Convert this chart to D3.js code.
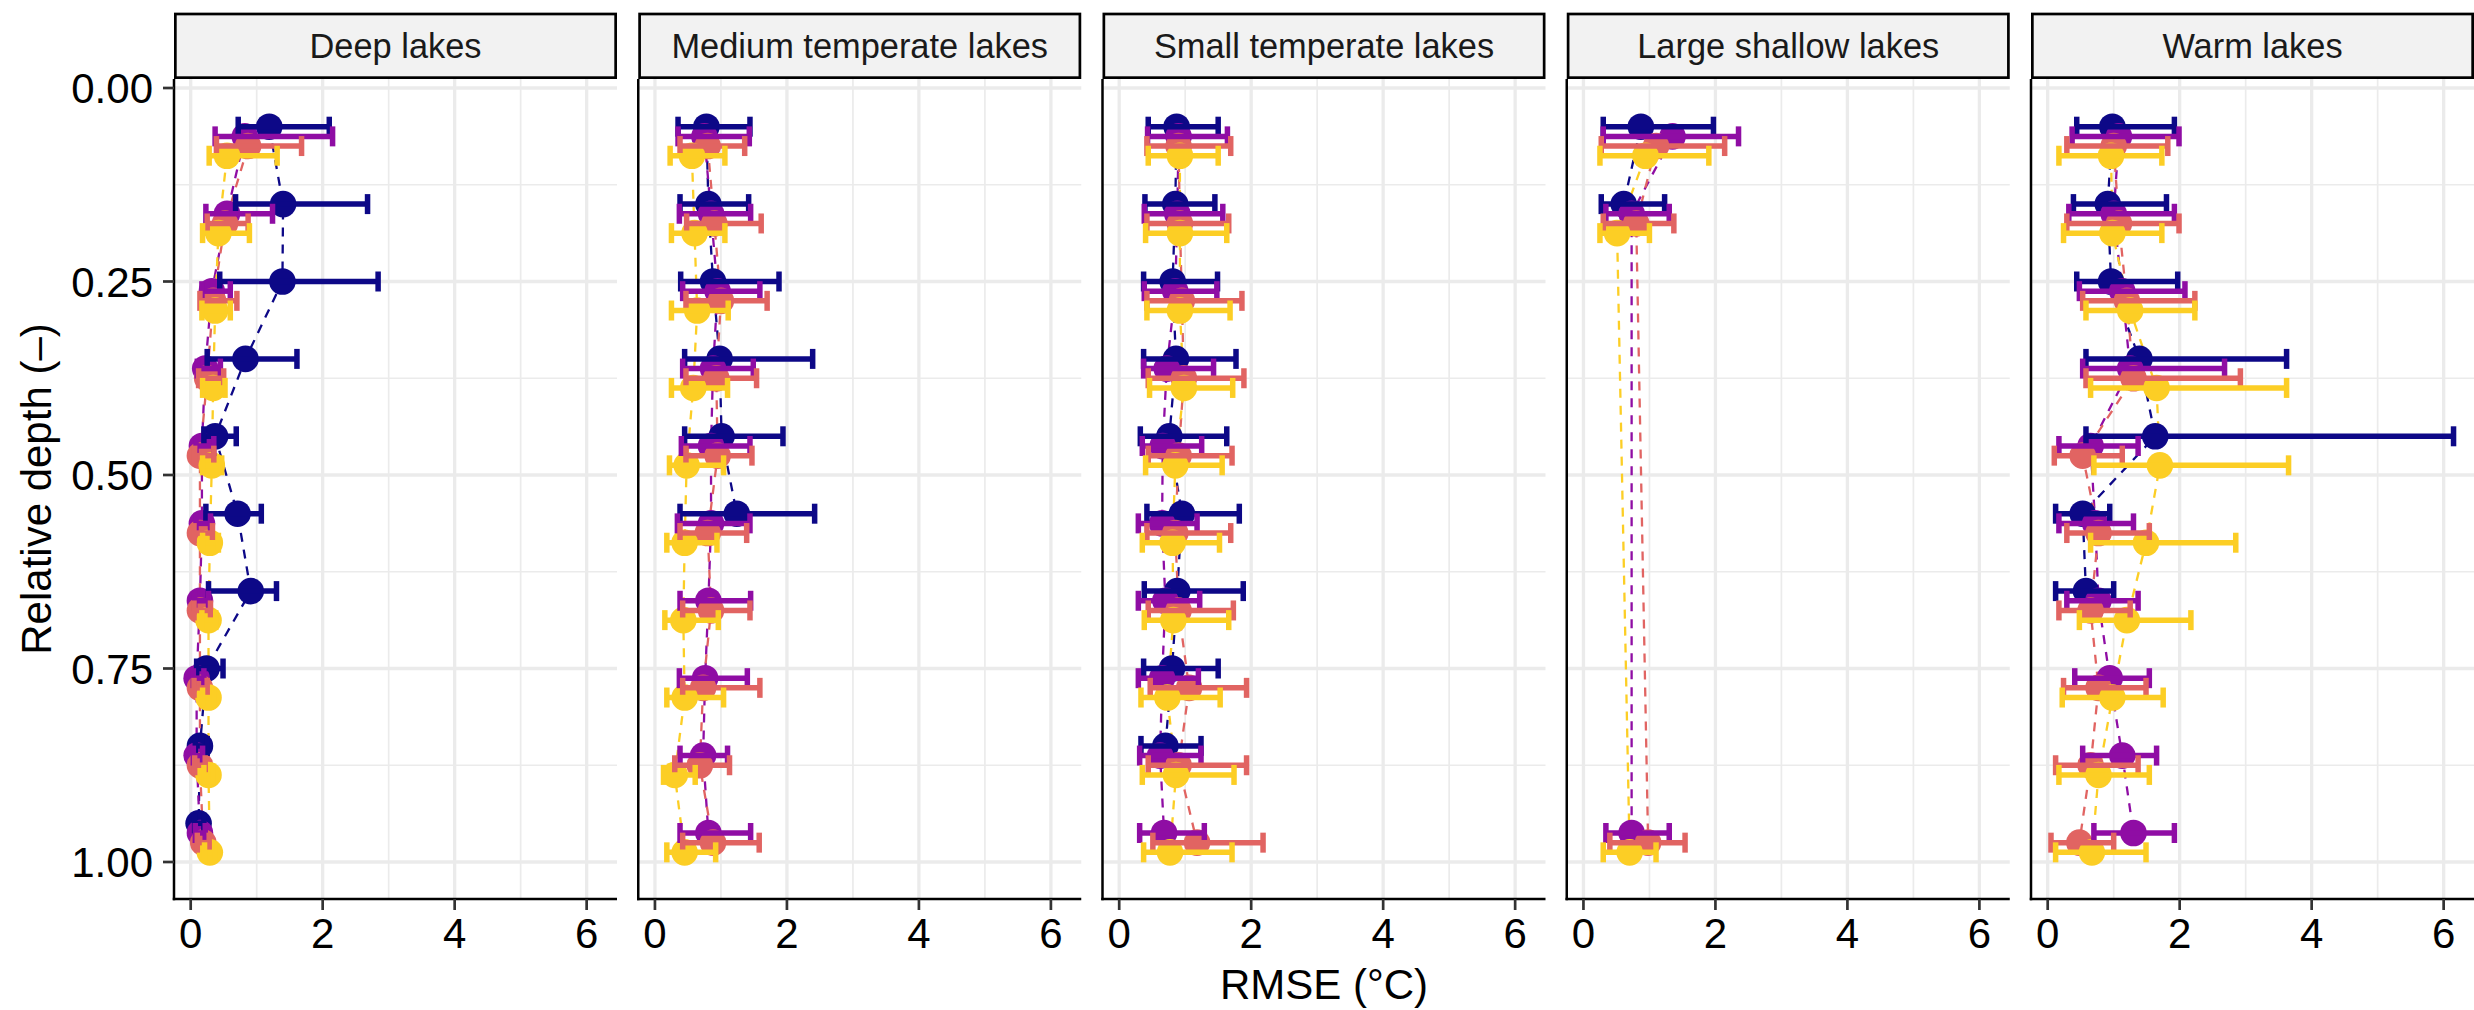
<!doctype html>
<html lang="en">
<head>
<meta charset="utf-8">
<title>RMSE by relative depth</title>
<script src="https://cdn.jsdelivr.net/npm/d3@7"></script>
<style>
  body { margin: 0; background: #fff; }
  svg { display: block; font-family: 'Liberation Sans', Arial, Helvetica, sans-serif; }
  .grid-major { stroke: #ebebeb; stroke-width: 3.3; }
  .grid-minor { stroke: #ebebeb; stroke-width: 1.7; }
  .axis-line { stroke: #000; stroke-width: 2.5; }
  .tick-mark { stroke: #333; stroke-width: 2.7; }
  .tick-label { font-size: 42px; fill: #000; }
  .strip rect { fill: #f2f2f2; stroke: #000; stroke-width: 2.7; }
  .strip text { font-size: 34.4px; fill: #1a1a1a; }
  .axis-title { font-size: 42px; fill: #000; }
</style>
</head>
<body>
<svg id="chart" width="2474" height="1010"></svg>
<script>
// facets
const lakeTypes = ['Deep lakes', 'Medium temperate lakes', 'Small temperate lakes', 'Large shallow lakes', 'Warm lakes'];
// relative depth bins
const depths = [0.05, 0.15, 0.25, 0.35, 0.45, 0.55, 0.65, 0.75, 0.85, 0.95];
const seriesKeys = ['s1', 's2', 's3', 's4'];
const seriesColors = ['#0D0887', '#8F0DA4', '#E16462', '#FCCE25'];
const xTicks = [0, 2, 4, 6];
const yTicks = [0, 0.25, 0.5, 0.75, 1];
const yTickLabels = ['0.00', '0.25', '0.50', '0.75', '1.00'];

// each block: one row per series (s1..s4), one value per depth; null = no data
const deepRmse = [
  [1.19, 1.40, 1.39, 0.83, 0.37, 0.71, 0.91, 0.24, 0.14, 0.12],
  [0.82, 0.55, 0.32, 0.22, 0.17, 0.17, 0.14, 0.09, 0.09, 0.14],
  [0.87, 0.52, 0.34, 0.25, 0.14, 0.14, 0.14, 0.14, 0.14, 0.19],
  [0.55, 0.42, 0.37, 0.34, 0.32, 0.29, 0.27, 0.27, 0.27, 0.29]
];
const deepLow = [
  [0.72, 0.68, 0.44, 0.25, 0.20, 0.23, 0.27, 0.09, 0.07, 0.06],
  [0.37, 0.23, 0.17, 0.10, 0.08, 0.08, 0.06, 0.04, 0.04, 0.07],
  [0.39, 0.25, 0.14, 0.12, 0.06, 0.05, 0.05, 0.05, 0.06, 0.10],
  [0.28, 0.18, 0.17, 0.18, 0.18, 0.18, 0.17, 0.18, 0.20, 0.21]
];
const deepHigh = [
  [2.10, 2.68, 2.84, 1.61, 0.69, 1.07, 1.30, 0.49, 0.25, 0.20],
  [2.15, 1.24, 0.60, 0.45, 0.35, 0.30, 0.27, 0.20, 0.18, 0.22],
  [1.68, 0.87, 0.70, 0.50, 0.35, 0.33, 0.30, 0.25, 0.22, 0.28],
  [1.31, 0.89, 0.60, 0.52, 0.47, 0.42, 0.38, 0.35, 0.34, 0.37]
];

const mediumRmse = [
  [0.78, 0.81, 0.88, 0.98, 1.01, 1.24, null, null, null, null],
  [0.75, 0.85, 0.95, 0.88, 0.85, 0.85, 0.81, 0.76, 0.73, 0.81],
  [0.80, 0.90, 1.00, 0.93, 0.95, 0.80, 0.85, 0.73, 0.68, 0.88],
  [0.56, 0.60, 0.64, 0.58, 0.48, 0.45, 0.43, 0.45, 0.30, 0.45]
];
const mediumLow = [
  [0.35, 0.38, 0.39, 0.45, 0.45, 0.38, null, null, null, null],
  [0.35, 0.37, 0.42, 0.42, 0.40, 0.34, 0.38, 0.37, 0.38, 0.38],
  [0.38, 0.48, 0.47, 0.47, 0.47, 0.38, 0.42, 0.42, 0.30, 0.42],
  [0.23, 0.25, 0.25, 0.25, 0.22, 0.18, 0.15, 0.18, 0.13, 0.18]
];
const mediumHigh = [
  [1.44, 1.42, 1.88, 2.39, 1.94, 2.42, null, null, null, null],
  [1.43, 1.45, 1.59, 1.49, 1.44, 1.44, 1.45, 1.40, 1.10, 1.45],
  [1.36, 1.61, 1.70, 1.54, 1.47, 1.39, 1.44, 1.59, 1.13, 1.58],
  [1.06, 1.06, 1.11, 1.10, 1.04, 0.94, 0.96, 1.04, 0.61, 0.92]
];

const smallRmse = [
  [0.87, 0.85, 0.81, 0.86, 0.76, 0.95, 0.88, 0.80, 0.70, null],
  [0.90, 0.88, 0.85, 0.72, 0.66, 0.65, 0.70, 0.65, 0.62, 0.68],
  [0.90, 0.92, 0.95, 0.98, 0.90, 0.85, 0.90, 1.06, 0.90, 1.18],
  [0.92, 0.92, 0.92, 0.98, 0.85, 0.81, 0.82, 0.73, 0.86, 0.77]
];
const smallLow = [
  [0.44, 0.39, 0.37, 0.37, 0.32, 0.42, 0.38, 0.37, 0.33, null],
  [0.43, 0.38, 0.38, 0.37, 0.35, 0.29, 0.29, 0.29, 0.31, 0.31],
  [0.42, 0.42, 0.42, 0.44, 0.44, 0.42, 0.44, 0.47, 0.44, 0.51],
  [0.44, 0.40, 0.42, 0.46, 0.40, 0.35, 0.38, 0.33, 0.35, 0.37]
];
const smallHigh = [
  [1.50, 1.45, 1.49, 1.77, 1.63, 1.82, 1.88, 1.50, 1.24, null],
  [1.64, 1.57, 1.48, 1.43, 1.25, 1.18, 1.22, 1.20, 1.24, 1.29],
  [1.69, 1.66, 1.86, 1.89, 1.71, 1.69, 1.73, 1.93, 1.93, 2.18],
  [1.50, 1.63, 1.68, 1.72, 1.56, 1.52, 1.66, 1.53, 1.74, 1.71]
];

const shallowRmse = [
  [0.87, 0.61, null, null, null, null, null, null, null, null],
  [1.35, 0.73, null, null, null, null, null, null, null, 0.73],
  [1.10, 0.80, null, null, null, null, null, null, null, 0.98],
  [0.94, 0.51, null, null, null, null, null, null, null, 0.70]
];
const shallowLow = [
  [0.30, 0.27, null, null, null, null, null, null, null, null],
  [0.30, 0.34, null, null, null, null, null, null, null, 0.34],
  [0.27, 0.30, null, null, null, null, null, null, null, 0.40],
  [0.25, 0.25, null, null, null, null, null, null, null, 0.30]
];
const shallowHigh = [
  [1.97, 1.23, null, null, null, null, null, null, null, null],
  [2.35, 1.30, null, null, null, null, null, null, null, 1.30],
  [2.14, 1.37, null, null, null, null, null, null, null, 1.54],
  [1.90, 1.00, null, null, null, null, null, null, null, 1.10]
];

const warmRmse = [
  [0.98, 0.91, 0.96, 1.39, 1.63, 0.53, 0.58, null, null, null],
  [1.08, 1.00, 1.13, 1.25, 0.65, 0.72, 0.77, 0.94, 1.13, 1.30],
  [1.00, 1.08, 1.20, 1.30, 0.53, 0.77, 0.65, 0.77, 0.65, 0.48],
  [0.96, 0.98, 1.25, 1.65, 1.70, 1.49, 1.20, 0.98, 0.77, 0.67]
];
const warmLow = [
  [0.44, 0.39, 0.44, 0.58, 0.58, 0.12, 0.12, null, null, null],
  [0.37, 0.32, 0.48, 0.53, 0.17, 0.17, 0.29, 0.41, 0.53, 0.70],
  [0.29, 0.29, 0.53, 0.58, 0.10, 0.29, 0.17, 0.24, 0.12, 0.05],
  [0.17, 0.24, 0.58, 0.65, 0.70, 0.65, 0.48, 0.22, 0.17, 0.12]
];
const warmHigh = [
  [1.92, 1.80, 1.97, 3.62, 6.15, 0.94, 1.00, null, null, null],
  [1.99, 1.92, 2.08, 2.68, 1.37, 1.30, 1.37, 1.54, 1.65, 1.92],
  [1.82, 1.99, 2.23, 2.92, 1.13, 1.54, 1.25, 1.49, 1.37, 1.00],
  [1.73, 1.73, 2.23, 3.62, 3.65, 2.85, 2.17, 1.75, 1.54, 1.49]
];

const rmseByLake = [deepRmse, mediumRmse, smallRmse, shallowRmse, warmRmse];
const lowByLake = [deepLow, mediumLow, smallLow, shallowLow, warmLow];
const highByLake = [deepHigh, mediumHigh, smallHigh, shallowHigh, warmHigh];

// long table
const rows = [];
lakeTypes.forEach((lake, li) => {
  seriesKeys.forEach((s, si) => {
    depths.forEach((d, di) => {
      const v = rmseByLake[li][si][di];
      if (v == null) return;
      rows.push({ lake, series: s, si, depth: d, rmse: v,
                  lo: lowByLake[li][si][di], hi: highByLake[li][si][di] });
    });
  });
});

const svg = d3.select('#chart');

const panelLeft = 174, panelW = 443, panelGap = 21.25;
const panelTop = 79, panelBottom = 899;
const stripTop = 14;
const dodge = 0.0125;   // vertical dodge between series

const x = d3.scaleLinear().domain([-0.253, 6.46]).range([0, panelW]);
const y = d3.scaleLinear().domain([0, 1]).range([88, 862]);
const color = d3.scaleOrdinal().domain(seriesKeys).range(seriesColors);

lakeTypes.forEach((lake, li) => {
  const g = svg.append('g')
    .attr('transform', `translate(${panelLeft + li * (panelW + panelGap)},0)`);

  // grid
  [1, 3, 5].forEach(v => g.append('line').attr('class', 'grid-minor')
    .attr('x1', x(v)).attr('x2', x(v)).attr('y1', panelTop).attr('y2', panelBottom));
  [0.125, 0.375, 0.625, 0.875].forEach(v => g.append('line').attr('class', 'grid-minor')
    .attr('x1', 0).attr('x2', panelW).attr('y1', y(v)).attr('y2', y(v)));
  xTicks.forEach(v => g.append('line').attr('class', 'grid-major')
    .attr('x1', x(v)).attr('x2', x(v)).attr('y1', panelTop).attr('y2', panelBottom));
  yTicks.forEach(v => g.append('line').attr('class', 'grid-major')
    .attr('x1', 0).attr('x2', panelW).attr('y1', y(v)).attr('y2', y(v)));

  const data = rows.filter(r => r.lake === lake);
  const line = d3.line().x(d => x(d.rmse)).y(d => y(d.depth + d.si * dodge));

  // dashed profile lines
  seriesKeys.forEach((s, si) => {
    const pts = data.filter(d => d.series === s);
    if (pts.length < 2) return;
    g.append('path').datum(pts)
      .attr('d', line)
      .attr('fill', 'none')
      .attr('stroke', color(s))
      .attr('stroke-width', 2.3)
      .attr('stroke-dasharray', '9,8');
  });

  // points
  g.selectAll('circle.pt').data(data).join('circle')
    .attr('class', 'pt')
    .attr('cx', d => x(d.rmse))
    .attr('cy', d => y(d.depth + d.si * dodge))
    .attr('r', 13.3)
    .attr('fill', d => color(d.series));

  // error bars
  const eb = g.selectAll('g.eb').data(data).join('g').attr('class', 'eb')
    .attr('stroke', d => color(d.series))
    .attr('stroke-width', 5.5);
  eb.append('line')
    .attr('x1', d => x(d.lo)).attr('x2', d => x(d.hi))
    .attr('y1', d => y(d.depth + d.si * dodge)).attr('y2', d => y(d.depth + d.si * dodge));
  eb.append('line')
    .attr('x1', d => x(d.lo)).attr('x2', d => x(d.lo))
    .attr('y1', d => y(d.depth + d.si * dodge) - 10).attr('y2', d => y(d.depth + d.si * dodge) + 10);
  eb.append('line')
    .attr('x1', d => x(d.hi)).attr('x2', d => x(d.hi))
    .attr('y1', d => y(d.depth + d.si * dodge) - 10).attr('y2', d => y(d.depth + d.si * dodge) + 10);

  // axes
  g.append('line').attr('class', 'axis-line')
    .attr('x1', 0).attr('x2', 0).attr('y1', panelTop).attr('y2', panelBottom + 1.25);
  g.append('line').attr('class', 'axis-line')
    .attr('x1', -1.25).attr('x2', panelW).attr('y1', panelBottom).attr('y2', panelBottom);

  xTicks.forEach(v => {
    g.append('line').attr('class', 'tick-mark')
      .attr('x1', x(v)).attr('x2', x(v)).attr('y1', panelBottom).attr('y2', panelBottom + 11);
    g.append('text').attr('class', 'tick-label')
      .attr('x', x(v)).attr('y', panelBottom + 49)
      .attr('text-anchor', 'middle').text(v);
  });

  if (li === 0) {
    yTicks.forEach((v, i) => {
      g.append('line').attr('class', 'tick-mark')
        .attr('x1', -11).attr('x2', 0).attr('y1', y(v)).attr('y2', y(v));
      g.append('text').attr('class', 'tick-label')
        .attr('x', -21).attr('y', y(v) + 15)
        .attr('text-anchor', 'end').text(yTickLabels[i]);
    });
  }

  // strip
  const strip = g.append('g').attr('class', 'strip');
  strip.append('rect')
    .attr('x', 1.35).attr('y', stripTop)
    .attr('width', panelW - 2.7).attr('height', panelTop - stripTop - 1.35);
  strip.append('text')
    .attr('x', panelW / 2).attr('y', 58)
    .attr('text-anchor', 'middle').text(lake);
});

svg.append('text').attr('class', 'axis-title')
  .attr('transform', `translate(51, ${(panelTop + panelBottom) / 2}) rotate(-90)`)
  .attr('text-anchor', 'middle')
  .text('Relative depth (–)');

svg.append('text').attr('class', 'axis-title')
  .attr('x', (panelLeft + 2474) / 2).attr('y', 999)
  .attr('text-anchor', 'middle')
  .text('RMSE (°C)');
</script>
</body>
</html>
